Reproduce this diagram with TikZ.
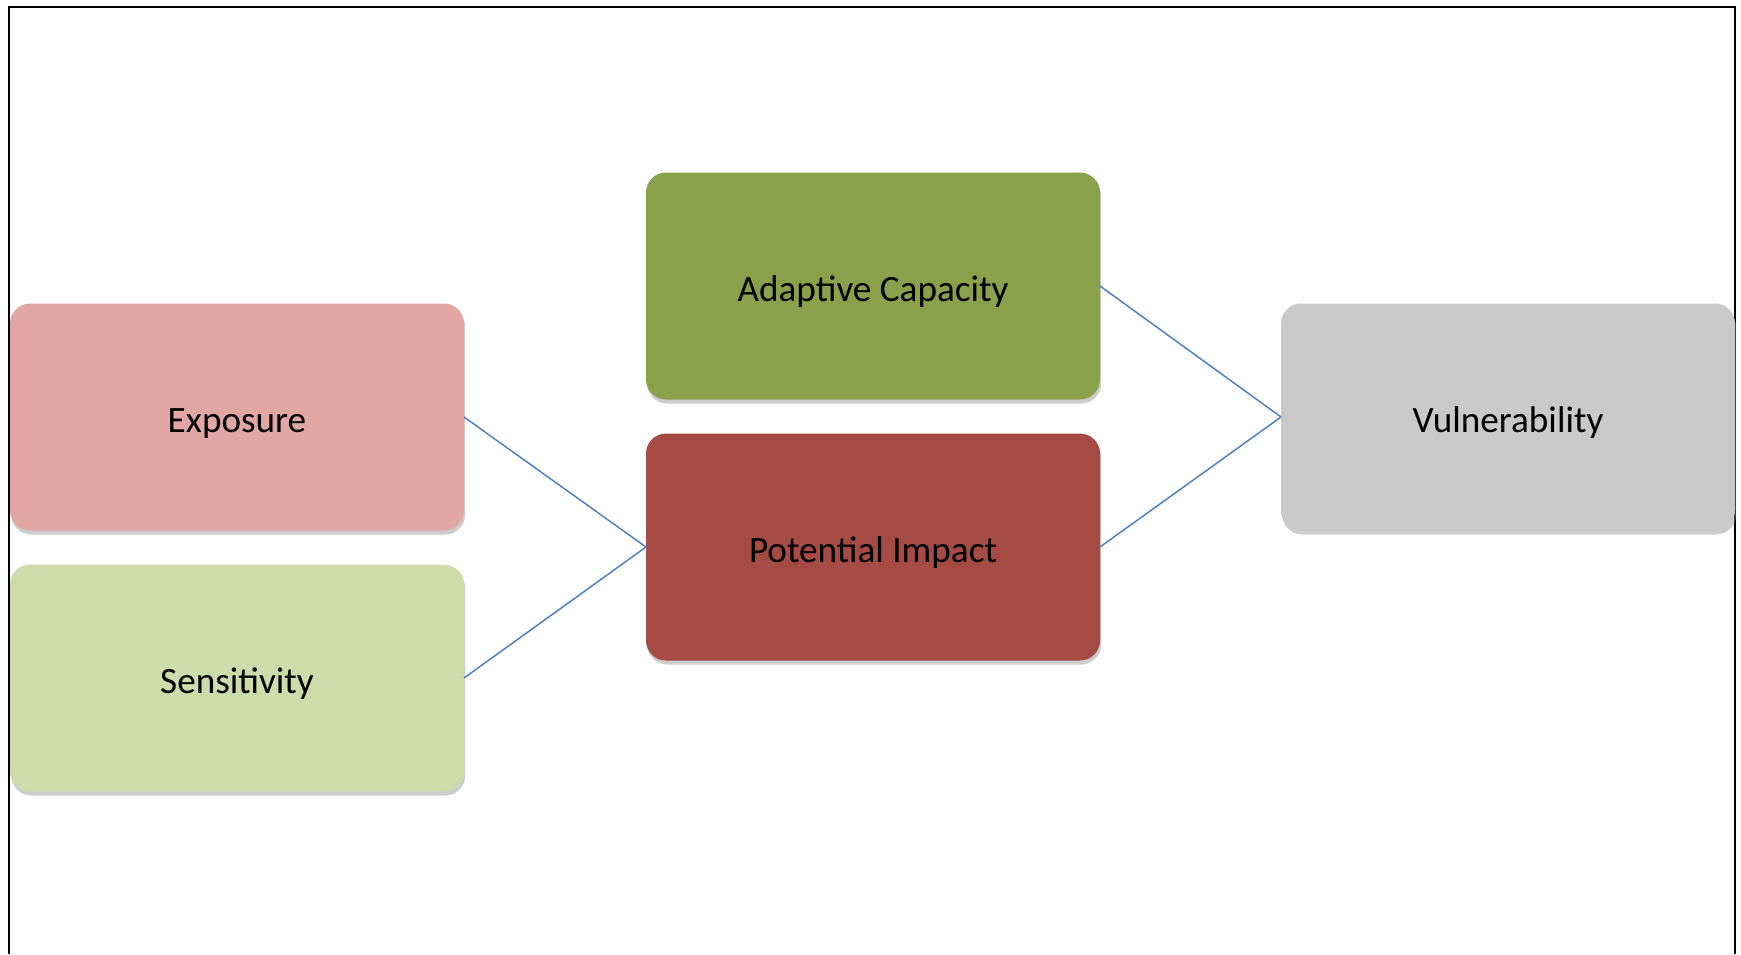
\documentclass[tikz,border=0pt]{standalone}
\usepackage{fontspec}
\setmainfont{Carlito}
\usepackage{tikz}
\usetikzlibrary{
	shadows,
	backgrounds,
	}
\definecolor{expcol}{RGB}{226,166,165}
\definecolor{sencol}{RGB}{206,220,172}
\definecolor{adpcol}{RGB}{138,161,75}
\definecolor{potcol}{RGB}{165,75,68}
\definecolor{vulcol}{RGB}{201,201,201}
\definecolor{linkcol}{RGB}{79,129,189}
\begin{document}
\begin{tikzpicture}[x=0.5pt,y=-0.5pt,factor/.style={shape=rectangle,rounded corners=10pt,minimum width=227pt,minimum height=113.5pt,inner sep=0pt,outer sep=0pt,text height=15pt,text depth=0pt,font=\fontsize{18.6}{22}\selectfont,drop shadow={shadow xshift=0.6pt,shadow yshift=-2pt,opacity=0.4}},link/.style={draw=linkcol,line width=0.75pt}]
\useasboundingbox (0,0) rectangle (1741,954);
\draw[line width=1pt] (8.5,954) -- (8.5,7) -- (1735,7) -- (1735,954);
\node[factor,fill=expcol] (exp) at (237,417) {Exposure};
\node[factor,fill=sencol] (sen) at (237,678) {Sensitivity};
\node[factor,fill=adpcol] (adp) at (873,286) {Adaptive Capacity};
\node[factor,fill=potcol] (pot) at (873,547) {Potential Impact};
\node[factor,fill=vulcol] (vul) at (1508,417) {Vulnerability};
\draw[link] (exp.east) -- (pot.west);
\draw[link] (sen.east) -- (pot.west);
\draw[link] (adp.east) -- (vul.west);
\draw[link] (pot.east) -- (vul.west);
\end{tikzpicture}
\end{document}
